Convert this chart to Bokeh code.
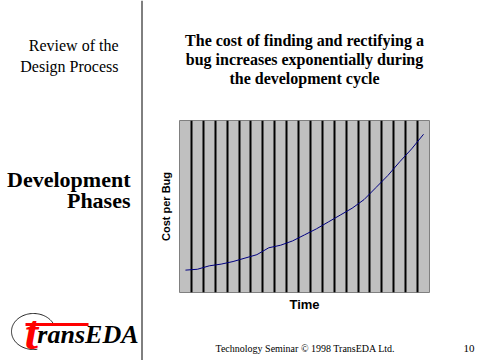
import numpy as np
from bokeh.plotting import figure
from bokeh.models import Range1d, FixedTicker, Title
from bokeh.layouts import row, column
from bokeh.embed import file_html
from bokeh.resources import INLINE
from bokeh.core.properties import value

# ---------------- data ----------------
periods = list(range(1, 22))              # development periods along "Time"
cost_per_bug = [13, 13.5, 15.5, 16.5, 18, 20, 22, 26, 27.5, 30, 33.5,
                37, 41, 45, 49, 54, 61, 68, 76, 83.5, 92]
period_edges = list(range(1, 22))         # boundaries between periods

title_lines = ["The cost of finding and rectifying a",
               "bug increases exponentially during",
               "the development cycle"]
x_label = "Time"
y_label = "Cost per Bug"
section_lines = ["Review of the", "Design Process"]
heading_lines = ["Development", "Phases"]
logo_initial = "t"
logo_rest = "ransEDA"
footer_text = "Technology Seminar \u00a9 1998 TransEDA Ltd."
page_number = "10"

SERIF = "Liberation Serif"
SANS = "Liberation Sans"
CHART_H = 320   # height of the chart band on the right


def blank(fig):
    fig.grid.visible = False
    fig.outline_line_color = None
    fig.background_fill_color = "white"
    fig.border_fill_color = "white"


# ---------------- left panel (full height) ----------------
left = figure(width=143, height=360, x_range=Range1d(0, 143), y_range=Range1d(360, 0),
              output_backend="svg", toolbar_location=None,
              x_axis_location=None, y_axis_location=None, min_border=0)
blank(left)
left.text(x=[118, 118], y=[44.5, 65.5], text=section_lines, text_font=value(SERIF),
          text_font_size="16px", text_align="right", text_baseline="alphabetic",
          text_color="black")
left.text(x=[130, 130], y=[179, 200], text=heading_lines, text_font=value(SERIF),
          text_font_size="22px", text_font_style="bold", text_align="right",
          text_baseline="alphabetic", text_color="black")
left.segment(x0=[141.5], y0=[0], x1=[141.5], y1=[360], line_color="black", line_width=1)

# logo: partial ellipse, red t with swoosh, "ransEDA"
t = np.radians(np.linspace(25, 280, 80))
left.line(x=33 + 22 * np.cos(t), y=331 - 18 * np.sin(t), line_color="#222222", line_width=1)
left.segment(x0=[25], y0=[324], x1=[88], y1=[324], line_color="#ff0000", line_width=3)
left.text(x=[31], y=[331.5], text=[logo_initial], text_font=value(SERIF),
          text_font_size="48px", text_font_style="bold italic", text_align="center",
          text_baseline="alphabetic", text_color="#ff0000")
left.text(x=[138], y=[334], text=[logo_rest], text_font=value(SERIF),
          text_font_size="26px", text_font_style="bold italic", text_align="right",
          text_baseline="alphabetic", text_color="black")

# ---------------- chart ----------------
p = figure(width=337, height=CHART_H, x_range=Range1d(0, 21), y_range=Range1d(0, 100),
           output_backend="svg", toolbar_location=None,
           min_border_left=36, min_border_right=51, min_border_top=120,
           min_border_bottom=CHART_H - 292)
p.background_fill_color = "#C0C0C0"
p.border_fill_color = "white"
p.outline_line_color = "#808080"
p.outline_line_width = 1

p.xgrid.ticker = FixedTicker(ticks=period_edges)
p.xgrid.grid_line_color = "black"
p.xgrid.grid_line_width = 2
p.ygrid.grid_line_color = None

for ax in (p.xaxis[0], p.yaxis[0]):
    ax.ticker = FixedTicker(ticks=[])
    ax.major_tick_out = 0
    ax.major_tick_in = 0
    ax.minor_tick_out = 0
    ax.minor_tick_in = 0
    ax.axis_line_color = None
    ax.major_label_standoff = 0
    ax.axis_label_text_font = SANS
    ax.axis_label_text_font_style = "bold"
    ax.axis_label_text_color = "black"
p.xaxis.axis_label = x_label
p.xaxis.axis_label_text_font_size = "13px"
p.xaxis.axis_label_standoff = 4
p.yaxis.axis_label = y_label
p.yaxis.axis_label_text_font_size = "11px"
p.yaxis.axis_label_standoff = 8

# title lines: stacked outward from the frame, so a spacer goes in first,
# then the last line, then the earlier ones
p.title = None
p.add_layout(Title(text=" ", text_font_size="16px", standoff=15), "above")
for line in reversed(title_lines):
    p.add_layout(Title(text=line, align="center", text_font=SERIF,
                       text_font_size="16px", text_font_style="bold", text_color="black",
                       standoff=0), "above")

p.line(x=[k - 0.5 for k in periods], y=cost_per_bug, line_color="#000080", line_width=1)

# ---------------- footer (right part of the bottom band) ----------------
foot = figure(width=337, height=360 - CHART_H, x_range=Range1d(143, 480),
              y_range=Range1d(360, CHART_H),
              output_backend="svg", toolbar_location=None,
              x_axis_location=None, y_axis_location=None, min_border=0)
blank(foot)
foot.text(x=[215], y=[347.5], text=[footer_text], text_font=value(SERIF),
          text_font_size="10px", text_align="left", text_baseline="alphabetic",
          text_color="black")
foot.text(x=[474], y=[347.5], text=[page_number], text_font=value(SERIF),
          text_font_size="11px", text_align="right", text_baseline="alphabetic",
          text_color="black")

# nesting each plot in its own layout keeps Bokeh from aligning their frames
layout = row(left, column(column(p), foot))
open("out.html", "w").write(file_html(layout, INLINE))
